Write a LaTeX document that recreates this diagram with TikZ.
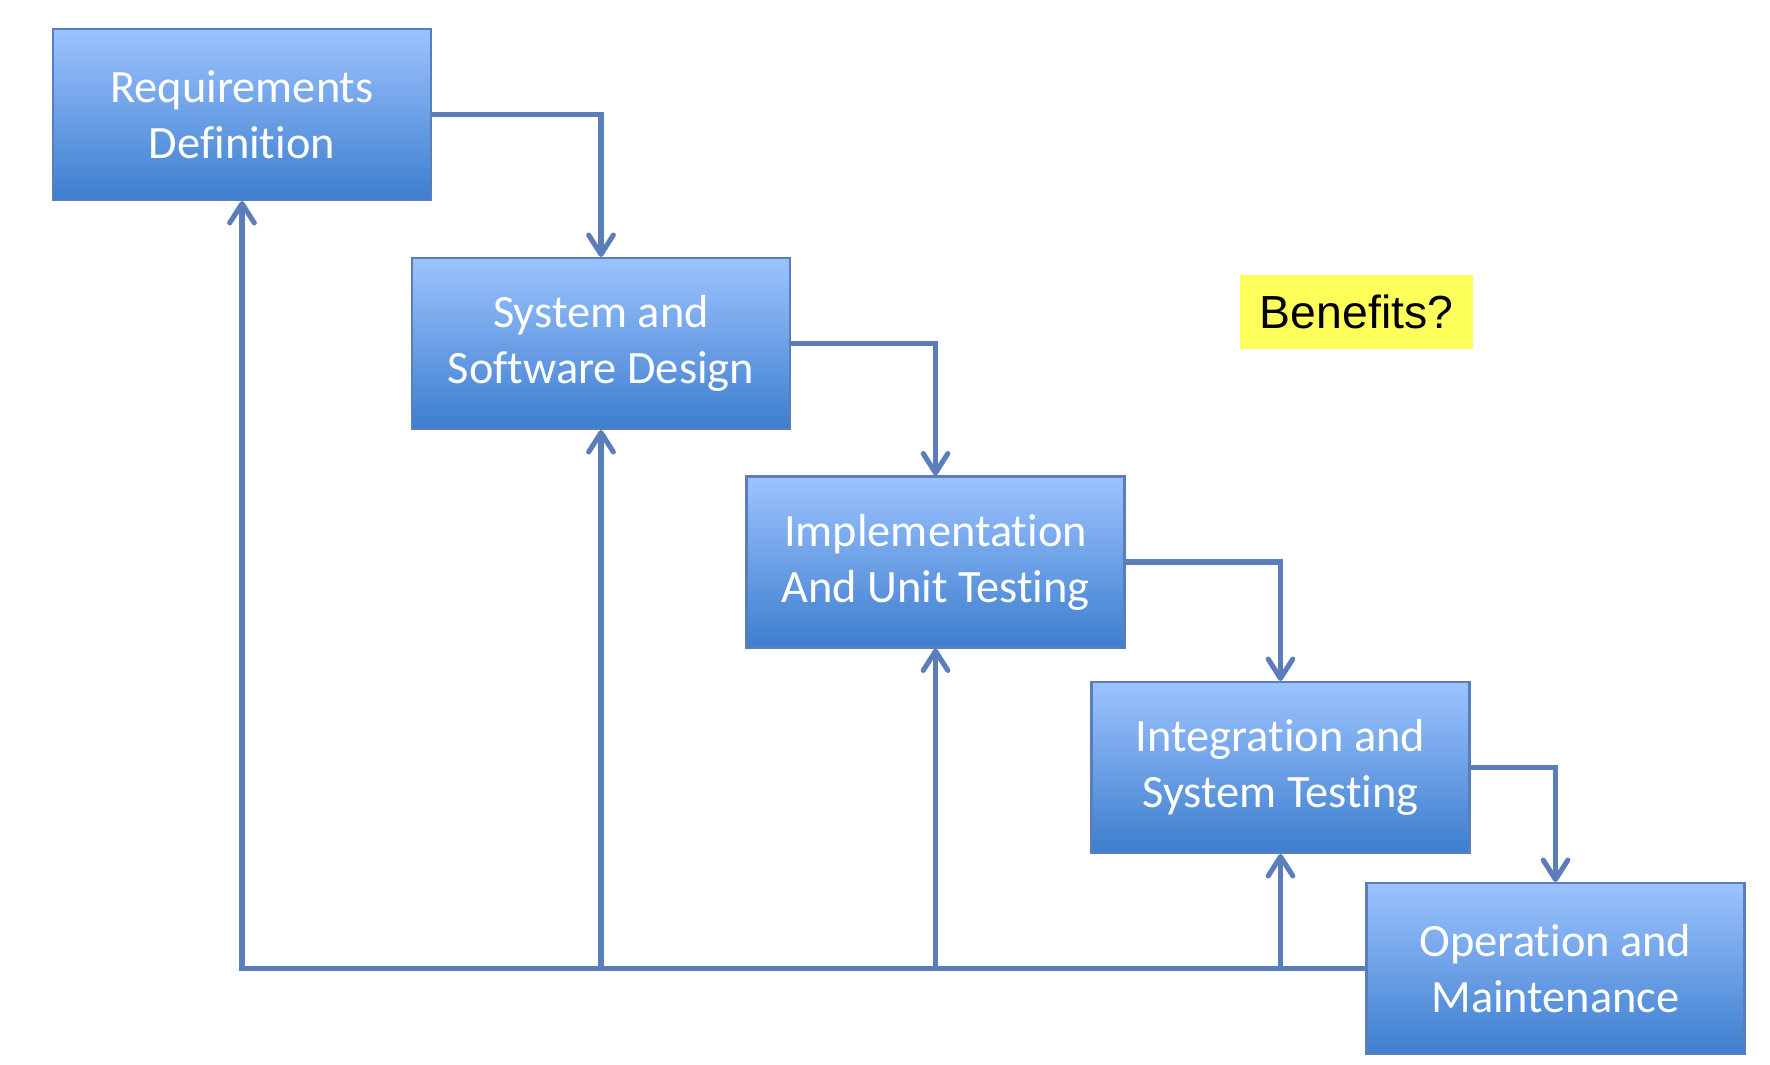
\documentclass[tikz,border=0pt]{standalone}
\usepackage{fontspec}
\usepackage{tikz}
\usetikzlibrary{arrows.meta,positioning}
\newfontfamily\boxfont[Ligatures=NoCommon]{Carlito}
\newfontfamily\notefont{Liberation Sans}
\definecolor{linkblue}{HTML}{5A7EBA}
\definecolor{boxtop}{HTML}{9CC3FF}
\definecolor{boxbottom}{HTML}{3D7ECE}
\definecolor{noteyellow}{HTML}{FFFF5C}

\begin{document}
\begin{tikzpicture}[
   >={Straight Barb[length=5.5pt,width=7pt,round]},
   phase/.style={draw=linkblue, line width=0.6pt, top color=boxtop, bottom color=boxbottom,
      minimum width=3.78cm, minimum height=1.71cm, inner sep=0pt, align=center, text=white,
      font=\boxfont\fontsize{13.2}{15.9}\selectfont},
   link/.style={draw=linkblue, line width=1.45pt, ->},
   note/.style={fill=noteyellow, minimum width=2.33cm, minimum height=0.74cm, inner sep=0pt,
      font=\notefont\fontsize{13.2}{15}\selectfont}
]
   % frame
   \useasboundingbox (0,0) rectangle (17.7,-10.64);

   % phases
   \node[phase] (req) at (2.42,-1.145) {Requirements\\Definition};
   \node[phase] (sys) at (6.01,-3.435) {System and\\Software Design};
   \node[phase] (impl) at (9.355,-5.62) {Implementation\\And Unit Testing};
   \node[phase] (integ) at (12.805,-7.675) {Integration and\\System Testing};
   \node[phase] (ops) at (15.555,-9.685) {Operation and\\Maintenance};

   % note
   \node[note] (benefits) at (13.565,-3.12) {Benefits?};

   % forward links
   \draw[link] (req.east) -| (sys.north);
   \draw[link] (sys.east) -| (impl.north);
   \draw[link] (impl.east) -| (integ.north);
   \draw[link] (integ.east) -| (ops.north);

   % feedback links
   \coordinate (fbsys) at (sys.south |- ops.west);
   \coordinate (fbimpl) at (impl.south |- ops.west);
   \coordinate (fbinteg) at (integ.south |- ops.west);
   \draw[link] (ops.west) -| (req.south);
   \draw[link] (fbsys) -- (sys.south);
   \draw[link] (fbimpl) -- (impl.south);
   \draw[link] (fbinteg) -- (integ.south);
\end{tikzpicture}
\end{document}
